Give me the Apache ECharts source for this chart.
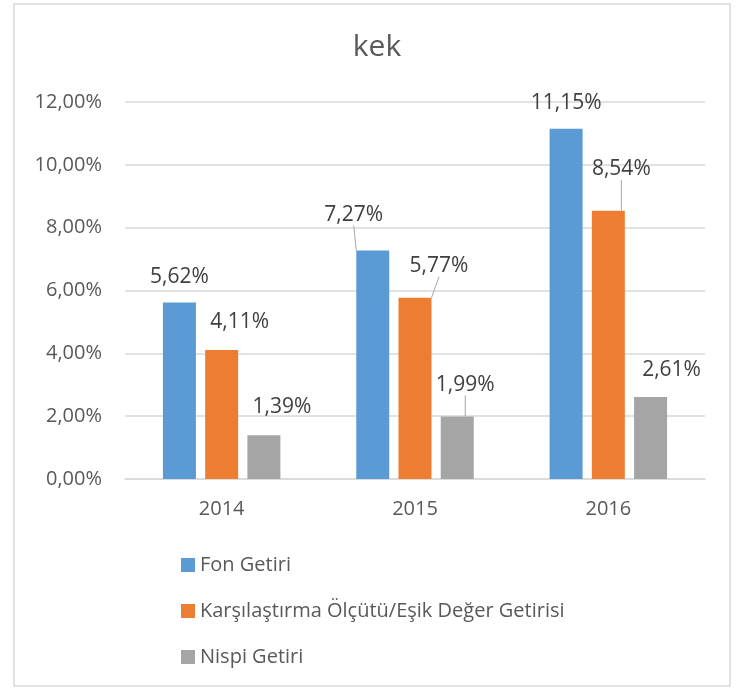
<!DOCTYPE html>
<html>
<head>
<meta charset="utf-8">
<script src="https://cdn.jsdelivr.net/npm/echarts@6/dist/echarts.min.js"></script>
<style>
  html, body { margin: 0; padding: 0; background: #fff; }
  #chart { width: 740px; height: 691px; }
</style>
</head>
<body>
<div id="chart"></div>
<script>
const years = ['2014', '2015', '2016']
const fonGetiri = [5.62, 7.27, 11.15]
const esikGetiri = [4.11, 5.77, 8.54]
const nispiGetiri = [1.39, 1.99, 2.61]
const seriesNames = ['Fon Getiri', 'Karşılaştırma Ölçütü/Eşik Değer Getirisi', 'Nispi Getiri']
const colors = ['#5B9BD5', '#ED7D31', '#A5A5A5']

// label nudges (Excel callouts were moved by hand), [dx, dy] per series/category
const labelShift = [
  [[0, -10], [-19, -20], [0, -10]],
  [[18, -12], [24, -16], [13, -26]],
  [[18, -13], [8, -16], [21, -11]]
]
// which labels have a leader line
const showLeader = [
  [false, true, false],
  [false, true, true],
  [false, true, false]
]

const fmt = (v) => v.toFixed(2).replace('.', ',') + '%'
const font = '"Open Sans", "Noto Sans", sans-serif'

const chart = echarts.init(document.getElementById('chart'))

const makeSerie = (idx, values) => ({
  name: seriesNames[idx],
  type: 'bar',
  barWidth: 33,
  barGap: '28%',
  itemStyle: { color: colors[idx] },
  label: {
    show: true,
    position: 'top',
    formatter: (p) => fmt(p.value),
    color: '#404040',
    fontSize: 21,
    fontFamily: font
  },
  labelLine: {
    show: true,
    lineStyle: { color: '#A6A6A6', width: 1 }
  },
  labelLayout: (params) => {
    const s = labelShift[idx][params.dataIndex]
    return { dx: s[0], dy: s[1] }
  },
  data: values.map((v, i) => ({
    value: v,
    labelLine: { show: showLeader[idx][i] }
  }))
})

const option = {
  backgroundColor: '#fff',
  animation: false,
  textStyle: { fontFamily: font },
  graphic: [{
    type: 'rect',
    silent: true,
    shape: { x: 14, y: 4, width: 716, height: 682 },
    style: { fill: 'none', stroke: '#D9D9D9', lineWidth: 1.5 }
  }],
  title: {
    text: 'kek',
    left: 372,
    textAlign: 'center',
    top: 27,
    textStyle: {
      color: '#595959',
      fontSize: 30,
      fontWeight: 'normal',
      fontFamily: font
    }
  },
  grid: {
    left: 125,
    right: 35,
    top: 102,
    bottom: 212,
    containLabel: false
  },
  legend: {
    orient: 'vertical',
    left: 176,
    top: 550,
    itemWidth: 14,
    itemHeight: 14,
    itemGap: 26,
    icon: 'rect',
    textStyle: {
      color: '#595959',
      fontSize: 20,
      fontFamily: font
    },
    data: seriesNames
  },
  xAxis: {
    type: 'category',
    data: years,
    axisLine: { lineStyle: { color: '#D9D9D9', width: 1.5 } },
    axisTick: { show: false },
    axisLabel: {
      color: '#595959',
      fontSize: 20,
      margin: 20,
      fontFamily: font
    }
  },
  yAxis: {
    type: 'value',
    min: 0,
    max: 12,
    interval: 2,
    axisLine: { show: false },
    axisTick: { show: false },
    splitLine: { lineStyle: { color: '#D9D9D9', width: 1.5 } },
    axisLabel: {
      color: '#595959',
      fontSize: 20,
      margin: 23,
      fontFamily: font,
      formatter: fmt
    }
  },
  series: [
    makeSerie(0, fonGetiri),
    makeSerie(1, esikGetiri),
    makeSerie(2, nispiGetiri)
  ]
}

chart.setOption(option)
</script>
</body>
</html>
